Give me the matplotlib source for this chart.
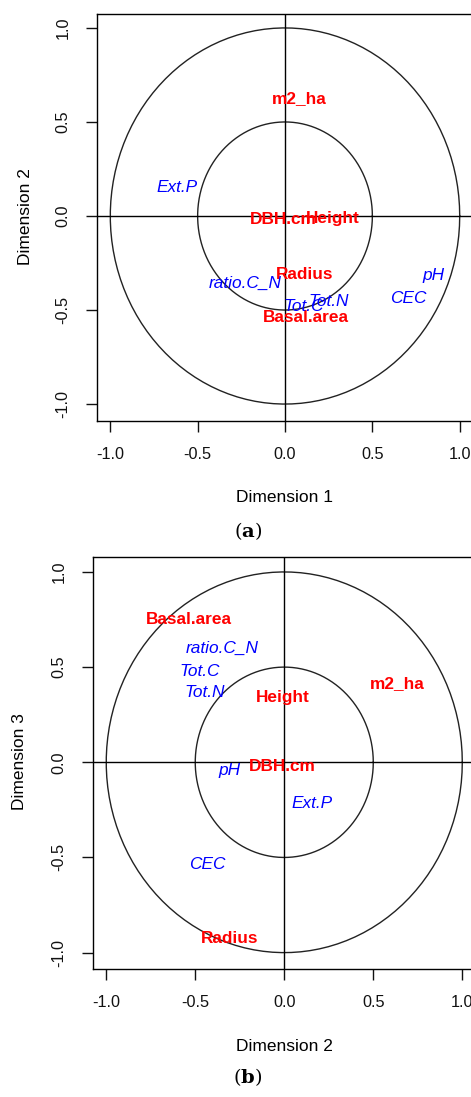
import numpy as np
import matplotlib
matplotlib.use('Agg')
import matplotlib.pyplot as plt

plt.rcParams['font.family'] = ['Liberation Sans', 'DejaVu Sans']
plt.rcParams['axes.unicode_minus'] = False
plt.rcParams['mathtext.fontset'] = 'dejavuserif'

# 变量名及其颜色分组
tree_vars = ['Basal.area', 'DBH.cm', 'Height', 'Radius', 'm2_ha']
soil_vars = ['Ext.P', 'pH', 'CEC', 'Tot.C', 'Tot.N', 'ratio.C_N']

# 各维度坐标
tree_dim1 = [0.12, -0.007, 0.274, 0.113, 0.084]
tree_dim2 = [-0.533, -0.01, -0.008, -0.305, 0.635]
tree_dim3 = [0.759, -0.014, 0.35, -0.916, 0.42]

soil_dim1 = [-0.618, 0.849, 0.706, 0.105, 0.248, -0.226]
soil_dim2 = [0.157, -0.308, -0.43, -0.473, -0.448, -0.348]
soil_dim3 = [-0.207, -0.035, -0.53, 0.485, 0.376, 0.604]

ticks = [-1.0, -0.5, 0.0, 0.5, 1.0]
tick_labels = ['-1.0', '-0.5', '0.0', '0.5', '1.0']


def draw_panel(ax, tx, ty, sx, sy, xlabel, ylabel, xlim, ylim):
    t = np.linspace(0, 2 * np.pi, 120)
    for r in [1.0, 0.5]:
        ax.plot(r * np.cos(t), r * np.sin(t), color='#222222', lw=1.0)
    ax.axhline(0, color='black', lw=1.0)
    ax.axvline(0, color='black', lw=1.0)
    for name, x, y in zip(tree_vars, tx, ty):
        ax.text(x, y, name, color='red', fontweight='bold', fontsize=12.4,
                ha='center', va='center_baseline')
    for name, x, y in zip(soil_vars, sx, sy):
        ax.text(x, y, name, color='blue', fontstyle='italic', fontsize=12.4,
                ha='center', va='center_baseline')
    ax.set_xlim(*xlim)
    ax.set_ylim(*ylim)
    ax.set_xticks(ticks)
    ax.set_xticklabels(tick_labels)
    ax.set_yticks(ticks)
    ax.set_yticklabels(tick_labels, rotation=90, va='center')
    ax.tick_params(length=8, width=1, pad=11, labelsize=11.7, colors='#111111')
    for sp in ax.spines.values():
        sp.set_linewidth(1.0)
    ax.set_xlabel(xlabel, fontsize=12.5, va='center')
    ax.set_ylabel(ylabel, fontsize=12.5, va='center')
    ax.xaxis.set_label_coords(0.5, -0.189)
    ax.yaxis.set_label_coords(-0.191, 0.503)


fig = plt.figure(figsize=(4.71, 10.97), dpi=100)

ax1 = fig.add_axes([97 / 471, 676 / 1097, 376 / 471, 407 / 1097])
draw_panel(ax1, tree_dim1, tree_dim2, soil_dim1, soil_dim2,
           'Dimension 1', 'Dimension 2', (-1.076, 1.076), (-1.09, 1.074))

ax2 = fig.add_axes([92.7 / 471, 128 / 1097, 383.3 / 471, 412.3 / 1097])
draw_panel(ax2, tree_dim2, tree_dim3, soil_dim2, soil_dim3,
           'Dimension 2', 'Dimension 3', (-1.076, 1.077), (-1.086, 1.08))

fig.text(248 / 471, 1 - 531 / 1097, r'$(\mathbf{a})$',
         fontsize=14, ha='center', va='center')
fig.text(248 / 471, 1 - 1077 / 1097, r'$(\mathbf{b})$',
         fontsize=14, ha='center', va='center')

fig.savefig('out.png', dpi=100)
